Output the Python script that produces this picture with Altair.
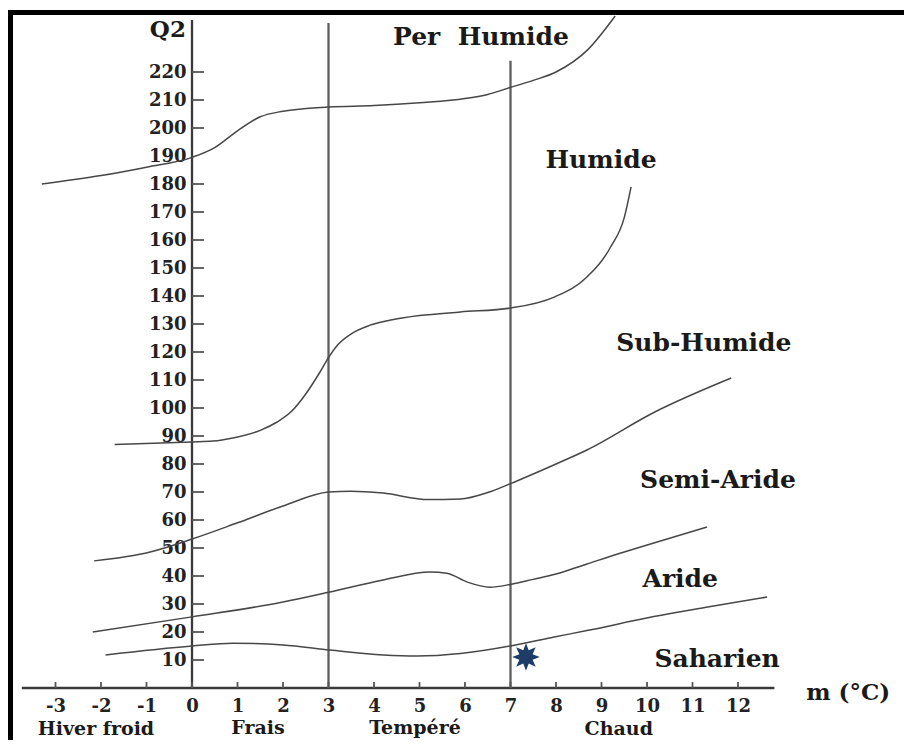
import altair as alt
import pandas as pd

# ---------------- data ----------------
per_humide_x = [-3.3, -2.0, -1.0, 0.0, 0.5, 1.0, 1.5, 2.0, 3.0, 4.0, 5.0, 6.0, 6.5, 7.0, 7.5, 8.0, 8.7, 9.3]
per_humide_y = [180, 183, 186, 189.5, 193, 199, 204, 206, 207.5, 208, 209, 210.5, 212, 214.5, 217, 220, 228, 240]

humide_x = [-1.7, 0.0, 0.46, 0.9, 1.5, 1.87, 2.2, 2.5, 2.8, 3.0, 3.2, 3.5, 3.9, 4.4, 5.0, 5.9, 7.0, 7.96, 8.68, 9.2, 9.5, 9.65]
humide_y = [87.0, 87.9, 88.2, 89.3, 92.0, 95.0, 99.0, 105.0, 112.5, 118.0, 122.5, 126.5, 129.5, 131.5, 133.0, 134.3, 135.7, 139.6, 146.8, 157.5, 168.0, 179.0]

subhumide_x = [-2.15, -0.92, 0.0, 1.0, 2.0, 3.0, 3.5, 4.2, 5.2, 5.9, 6.5, 7.0, 8.0, 8.68, 10.15, 11.85]
subhumide_y = [45.4, 48.6, 53.2, 59.0, 65.0, 70.0, 70.3, 69.6, 67.3, 67.5, 69.8, 73.0, 80.0, 85.0, 98.4, 110.7]

semiaride_x = [-2.18, 0.0, 2.0, 3.03, 4.2, 5.23, 5.6, 6.04, 6.55, 7.0, 7.5, 8.0, 8.68, 9.5, 10.15, 11.32]
semiaride_y = [20.0, 25.4, 30.7, 34.3, 38.6, 41.4, 41.0, 37.9, 36.0, 37.0, 38.8, 40.7, 44.3, 48.6, 51.8, 57.5]

aride_x = [-1.9, 0.0, 0.9, 2.0, 3.03, 4.2, 4.95, 5.9, 7.0, 7.96, 8.68, 10.15, 11.3, 12.64]
aride_y = [11.8, 15.0, 16.0, 15.4, 13.6, 11.8, 11.4, 12.3, 15.0, 18.2, 20.5, 25.5, 28.8, 32.5]

curve_names = ["Per Humide", "Humide", "Sub-Humide", "Semi-Aride", "Aride"]
curves_x = [per_humide_x, humide_x, subhumide_x, semiaride_x, aride_x]
curves_y = [per_humide_y, humide_y, subhumide_y, semiaride_y, aride_y]

# station point (star)
station_x = [7.34]
station_y = [11.1]

# axis ticks / labels
x_ticks = list(range(-3, 13))
y_label_vals = list(range(10, 230, 10))
y_tick_vals = [v for v in y_label_vals if v != 190]

# guide lines: y axis, x axis and the two thermal limits
guide_x = [0.0, -3.74, 3.0, 7.0]
guide_x2 = [0.0, 12.8, 3.0, 7.0]
guide_y = [0.0, 0.0, 0.0, 0.0]
guide_y2 = [238.6, 0.0, 237.5, 224.0]

# bioclimatic zone labels
zone_labels = ["Per\u00a0\u00a0Humide", "Humide", "Sub-Humide", "Semi-Aride", "Aride", "Saharien"]
zone_x = [6.35, 8.99, 11.25, 11.56, 10.73, 11.54]
zone_y = [232.5, 188.6, 123.2, 74.3, 38.9, 10.4]

# winter-type labels under the x axis
winter_labels = ["Hiver froid", "Frais", "Tempéré", "Chaud"]
winter_x = [-2.11, 1.45, 4.9, 9.38]
winter_y = [-18.2, -18.0, -17.8, -18.2]

axis_titles = ["Q2", "m (°C)"]
axis_title_x = [-0.53, 14.42]
axis_title_y = [235.0, -1.8]

# ---------------- layout ----------------
W, H = 896, 732
PX_PER_X, PX_PER_Y = 45.5, 2.8
X0_PX, Y0_PX = 184, 680
xmin = -X0_PX / PX_PER_X
xmax = xmin + W / PX_PER_X
ymax = Y0_PX / PX_PER_Y
ymin = ymax - H / PX_PER_Y

FONT = "DejaVu Serif"

xs = alt.Scale(domain=[xmin, xmax], nice=False, zero=False)
ys = alt.Scale(domain=[ymin, ymax], nice=False, zero=False)
xaxis = alt.Axis(values=x_ticks, offset=-(H - Y0_PX), ticks=False, domain=False, grid=False,
                 title=None, labelFont=FONT, labelFontWeight="bold", labelFontSize=18,
                 labelColor="#222", labelPadding=9, labelOverlap=False, labelFlush=False,
                 labelExpr="'' + datum.value")
yaxis = alt.Axis(values=y_label_vals, offset=-X0_PX, ticks=False, domain=False, grid=False,
                 title=None, labelFont=FONT, labelFontWeight="bold", labelFontSize=18,
                 labelColor="#222", labelPadding=6, labelOverlap=False, labelFlush=False)


def X(f="x"):
    return alt.X(f"{f}:Q", scale=xs, axis=xaxis)


def Y(f="y"):
    return alt.Y(f"{f}:Q", scale=ys, axis=yaxis)


rows = []
for name, cx, cy in zip(curve_names, curves_x, curves_y):
    for i, (a, b) in enumerate(zip(cx, cy)):
        rows.append({"curve": name, "i": i, "x": a, "y": b})
curves_df = pd.DataFrame(rows)

curves = alt.Chart(curves_df).mark_line(
    interpolate="monotone", color="#474747", strokeWidth=1.5
).encode(x=X(), y=Y(), detail="curve:N", order="i:Q")

guides_df = pd.DataFrame({"x": guide_x, "x2": guide_x2, "y": guide_y, "y2": guide_y2,
                          "kind": ["axis", "axis", "limit", "limit"]})
guides = alt.Chart(guides_df).mark_rule(strokeWidth=2.3).encode(
    x=X(), x2="x2:Q", y=Y(), y2="y2:Q",
    color=alt.Color("kind:N", scale=alt.Scale(domain=["axis", "limit"], range=["#3a3a3a", "#5e5e5e"]),
                    legend=None),
)

ytick_df = pd.DataFrame({"x": [0.0] * len(y_tick_vals), "y": y_tick_vals})
yticks = alt.Chart(ytick_df).mark_rule(x2Offset=12, color="#555", strokeWidth=1.8).encode(
    x=X(), x2="x:Q", y=Y()
)

xtick_df = pd.DataFrame({"x": x_ticks, "y": [0.0] * len(x_ticks)})
xticks = alt.Chart(xtick_df).mark_rule(y2Offset=-6, color="#555", strokeWidth=1.8).encode(
    x=X(), y=Y(), y2="y:Q"
)

star_path = ("M0,-1 L0.2,-0.48 L0.707,-0.707 L0.48,-0.2 L1,0 L0.48,0.2 L0.707,0.707 "
             "L0.2,0.48 L0,1 L-0.2,0.48 L-0.707,0.707 L-0.48,0.2 L-1,0 L-0.48,-0.2 "
             "L-0.707,-0.707 L-0.2,-0.48 Z")
star = alt.Chart(pd.DataFrame({"x": station_x, "y": station_y})).mark_point(
    shape=star_path, size=760, filled=True, color="#1d3c68", opacity=1
).encode(x=X(), y=Y())

zones = alt.Chart(pd.DataFrame({"label": zone_labels, "x": zone_x, "y": zone_y})).mark_text(
    font=FONT, fontWeight="bold", fontSize=25, color="#1a1a1a", align="center", baseline="middle"
).encode(x=X(), y=Y(), text="label:N")

winters = alt.Chart(pd.DataFrame({"label": winter_labels, "x": winter_x, "y": winter_y})).mark_text(
    font=FONT, fontWeight="bold", fontSize=19, color="#1a1a1a", align="center", baseline="bottom"
).encode(x=X(), y=Y(), text="label:N")

titles = alt.Chart(pd.DataFrame({"label": axis_titles, "x": axis_title_x, "y": axis_title_y})).mark_text(
    font=FONT, fontWeight="bold", fontSize=23, color="#1a1a1a", align="center", baseline="middle"
).encode(x=X(), y=Y(), text="label:N")

frame_df = pd.DataFrame({"k": ["left", "top"]})
frame_left = alt.Chart(frame_df).transform_filter("datum.k == 'left'").mark_rule(
    color="black", strokeWidth=5
).encode(x=alt.value(2.5), y=alt.value(2), y2=alt.value(H))
frame_top = alt.Chart(frame_df).transform_filter("datum.k == 'top'").mark_rule(
    color="black", strokeWidth=5
).encode(y=alt.value(4.5), x=alt.value(0), x2=alt.value(W))

chart = alt.layer(
    guides, yticks, xticks, curves, star, zones, winters, titles, frame_left, frame_top
).properties(
    width=W, height=H, padding=0, autosize=alt.AutoSizeParams(type="none"),
    background="white",
).configure_view(stroke=None)

chart.save("out.html", embed_options={"renderer": "svg", "actions": False})
